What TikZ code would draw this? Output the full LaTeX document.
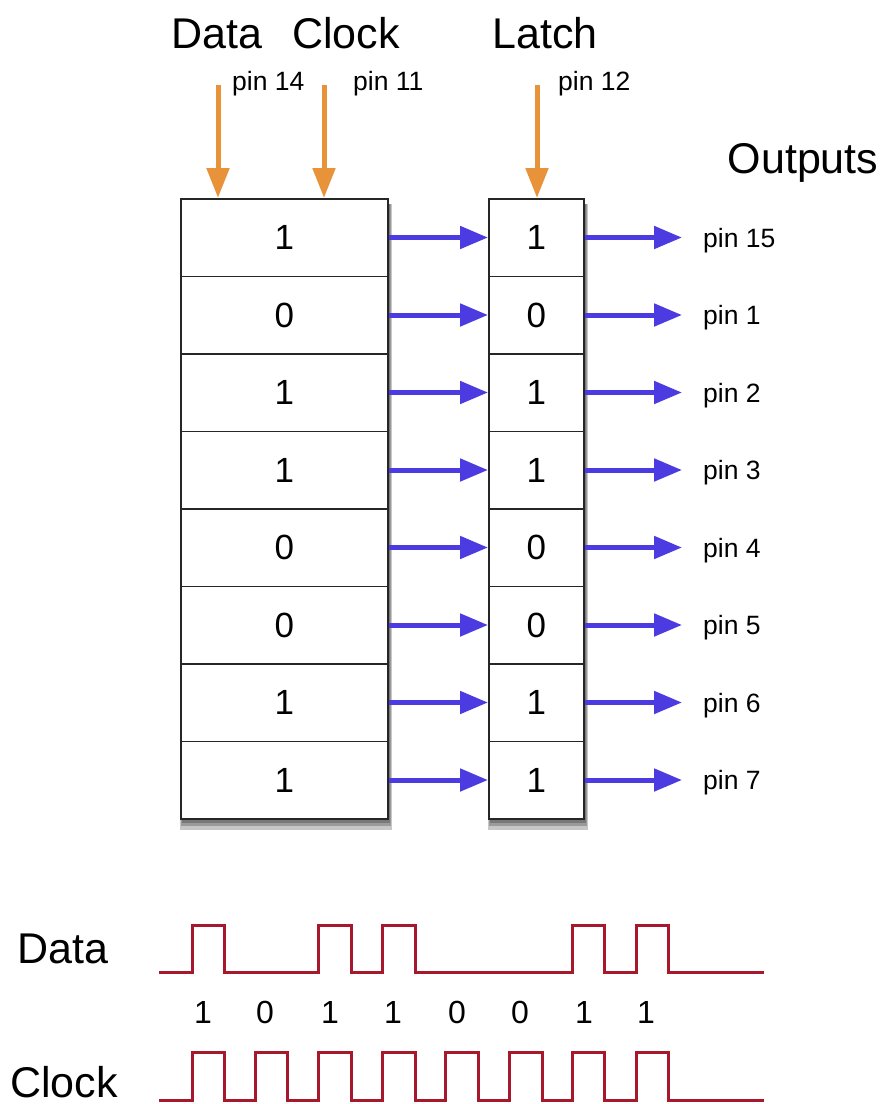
\documentclass[tikz,border=0pt]{standalone}
\usepackage{fontspec}
\setmainfont{Liberation Sans}
\usetikzlibrary{arrows.meta}
\definecolor{ctrl}{HTML}{E8923A}
\definecolor{sig}{HTML}{4B3BE0}
\definecolor{wavec}{HTML}{A8182C}
\tikzset{
 cell/.style={draw=black!85, line width=1.5pt, fill=white, minimum height=77.5pt, inner sep=0pt, font=\fontsize{35}{35}\selectfont, anchor=north west},
 lcell/.style={cell, minimum width=207pt},
 rcell/.style={cell, minimum width=95pt},
 ctrlarrow/.style={draw=ctrl, line width=5pt, -{Triangle[length=30pt,width=22pt]}},
 sigarrow/.style={draw=sig, line width=5pt, -{Triangle[length=28pt,width=22pt]}},
 title/.style={font=\fontsize{43}{43}\selectfont, anchor=base, inner sep=0pt},
 pinlabel/.style={font=\fontsize{26.5}{26.5}\selectfont, anchor=base west, inner sep=0pt},
 bitlabel/.style={font=\fontsize{32}{32}\selectfont, anchor=base, inner sep=0pt},
 wave/.style={draw=wavec, line width=3pt},
 shadowbox/.style={fill=black, opacity=0.22},
}
\begin{document}
\begin{tikzpicture}[x=1pt,y=-1pt]
\useasboundingbox (0,0) rectangle (885,1104);
% titles
\node[title] (tData) at (217,48) {Data};
\node[title] (tClock) at (346,48) {Clock};
\node[title] (tLatch) at (545,48) {Latch};
\node[title] (tOut) at (803,173) {Outputs};
\node[pinlabel] (p14) at (232,90) {pin 14};
\node[pinlabel] (p11) at (353,90) {pin 11};
\node[pinlabel] (p12) at (558,90) {pin 12};
% shadows
\fill[shadowbox] (180,204) rectangle (392,830);
\fill[shadowbox] (181,204) rectangle (391,826);
\fill[shadowbox] (182,204) rectangle (390,823);
\fill[shadowbox] (488,204) rectangle (588,830);
\fill[shadowbox] (489,204) rectangle (587,826);
\fill[shadowbox] (490,204) rectangle (586,823);
% cells
\foreach \v [count=\i] in {1,0,1,1,0,0,1,1} {
  \node[lcell] (L\i) at (180,{198+(\i-1)*77.5}) {\v};
  \node[rcell] (R\i) at (488,{198+(\i-1)*77.5}) {\v};
}
% control arrows
\coordinate (cData) at (218,85);
\coordinate (cClock) at (324,85);
\coordinate (cLatch) at (537,85);
\draw[ctrlarrow] (cData) -- (cData |- L1.north);
\draw[ctrlarrow] (cClock) -- (cClock |- L1.north);
\draw[ctrlarrow] (cLatch) -- (cLatch |- R1.north);
% outputs
\foreach \p [count=\i] in {15,1,2,3,4,5,6,7} {
  \node[pinlabel] (P\i) at (703,{237+(\i-1)*77.5+10}) {pin \p};
  \draw[sigarrow] (L\i.east) -- (R\i.west);
  \draw[sigarrow, shorten >=21pt] (R\i.east) -- (R\i.east -| P\i.west);
}
% waveforms
\node[title] (wData) at (63,963) {Data};
\node[title] (wClock) at (64,1097) {Clock};
\draw[wave] (159,972) -- (192,972) -- (192,925) -- (224,925) -- (224,972)
  -- (318,972) -- (318,925) -- (351,925) -- (351,972)
  -- (382,972) -- (382,925) -- (415,925) -- (415,972)
  -- (572,972) -- (572,925) -- (604,925) -- (604,972)
  -- (636,972) -- (636,925) -- (668,925) -- (668,972) -- (764,972);
\draw[wave] (159,1100) -- (192,1100) -- (192,1052) -- (224,1052) -- (224,1100)
  -- (255,1100) -- (255,1052) -- (287,1052) -- (287,1100)
  -- (318,1100) -- (318,1052) -- (351,1052) -- (351,1100)
  -- (382,1100) -- (382,1052) -- (415,1052) -- (415,1100)
  -- (445,1100) -- (445,1052) -- (478,1052) -- (478,1100)
  -- (509,1100) -- (509,1052) -- (542,1052) -- (542,1100)
  -- (572,1100) -- (572,1052) -- (604,1052) -- (604,1100)
  -- (636,1100) -- (636,1052) -- (668,1052) -- (668,1100) -- (764,1100);
\foreach \b/\x [count=\i] in {1/203,0/265,1/330,1/393,0/457,0/520,1/584,1/646} {
  \node[bitlabel] (b\i) at (\x,1023) {\b};
}
\end{tikzpicture}
\end{document}
